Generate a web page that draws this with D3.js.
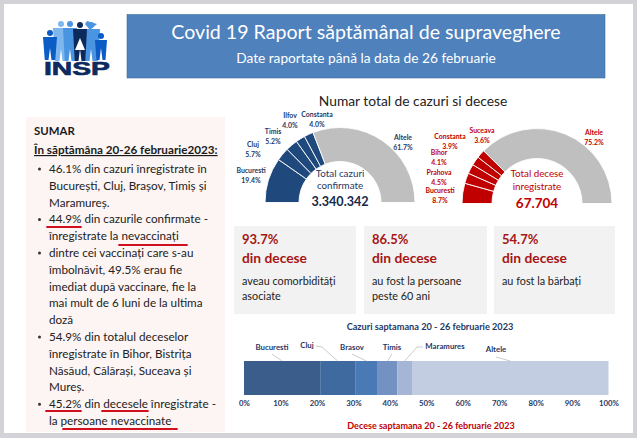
<!DOCTYPE html>
<html>
<head>
<meta charset="utf-8">
<script src="https://cdnjs.cloudflare.com/ajax/libs/d3/7.8.5/d3.min.js"></script>
<style>
    body { margin: 0; background: #d3d3d7; }
    svg { display: block; font-family: Lato, "Open Sans", sans-serif; }
</style>
</head>
<body>
<svg id="chart" width="637" height="438"></svg>
<script>
// Gauge data
const caseRegions = ["Bucuresti", "Cluj", "Timis", "Ilfov", "Constanta", "Altele"];
const caseShares = [19.4, 5.7, 5.2, 4.0, 4.0, 61.7];
const deathRegions = ["Bucuresti", "Prahova", "Bihor", "Constanta", "Suceava", "Altele"];
const deathShares = [8.7, 4.5, 4.1, 3.9, 3.6, 75.2];

// Weekly stacked bar
const weekRegions = ["Bucuresti", "Cluj", "Brasov", "Timis", "Maramures", "Altele"];
const weekShares = [20.9, 9.6, 6.2, 5.4, 4.0, 53.9];
const weekTicks = [0, 10, 20, 30, 40, 50, 60, 70, 80, 90, 100];

// Fact cards
const cardPercents = ["93.7%", "86.5%", "54.7%"];
const cardLines = [["aveau comorbidități", "asociate"], ["au fost la persoane", "peste 60 ani"], ["au fost la bărbați"]];

// Summary text
const summaryLines = [
    [true, "46.1% din cazuri înregistrate în"],
    [false, "București, Cluj, Brașov, Timiș și"],
    [false, "Maramureș."],
    [true, "44.9% din cazurile confirmate -"],
    [false, "înregistrate la nevaccinați"],
    [true, "dintre cei vaccinați care s-au"],
    [false, "îmbolnăvit, 49.5% erau fie"],
    [false, "imediat după vaccinare, fie la"],
    [false, "mai mult de 6 luni de la ultima"],
    [false, "doză"],
    [true, "54.9% din totalul deceselor"],
    [false, "înregistrate în Bihor, Bistrița"],
    [false, "Năsăud, Călărași, Suceava și"],
    [false, "Mureș."],
    [true, "45.2% din decesele înregistrate -"],
    [false, "la persoane nevaccinate"]
];

const NAVY = "#1f3864";
const RED = "#c00000";
const svg = d3.select("#chart");

function addText(parent, x, y, str, size, color, weight, anchor) {
    return parent.append("text")
        .attr("x", x).attr("y", y)
        .attr("font-size", size)
        .attr("fill", color)
        .attr("font-weight", weight || 400)
        .attr("text-anchor", anchor || "start")
        .text(str);
}

// page
svg.append("rect").attr("x", 4).attr("y", 4).attr("width", 629).attr("height", 429).attr("fill", "#fff");

// header
svg.append("rect").attr("x", 127).attr("y", 14.5).attr("width", 478).attr("height", 63.5)
    .attr("fill", "#4f81bd").attr("stroke", "#41719c").attr("stroke-width", 0.6);
addText(svg, 366, 39, "Covid 19 Raport săptămânal de supraveghere", 19.6, "#fff", 400, "middle");
addText(svg, 366, 63, "Date raportate până la data de 26 februarie", 13.7, "#fff", 400, "middle");
addText(svg, 413, 106, "Numar total de cazuri si decese", 13.8, "#222", 400, "middle");

drawLogo();

// summary panel
svg.append("rect").attr("x", 26).attr("y", 117).attr("width", 199).attr("height", 315).attr("fill", "#fdf5f4");
addText(svg, 34, 135, "SUMAR", 11.4, "#1a1a1a", 700);
addText(svg, 34, 154, "În săptămâna 20-26 februarie2023:", 11.7, "#1a1a1a", 700)
    .attr("text-decoration", "underline");

const lineY = d3.scaleLinear().domain([0, 15]).range([173, 425]);
summaryLines.forEach(([bullet, str], i) => {
    addText(svg, 49, lineY(i), str, 11.7, "#222");
    if (bullet) svg.append("circle").attr("cx", 39.5).attr("cy", lineY(i) - 4).attr("r", 1.5).attr("fill", "#333");
});

// hand drawn red underlines
[[47, 81, 227], [119, 187, 245], [46, 81, 411], [102, 148, 411], [63, 177, 429]].forEach(u => {
    svg.append("line").attr("x1", u[0]).attr("x2", u[1]).attr("y1", u[2]).attr("y2", u[2])
        .attr("stroke", "#d0101c").attr("stroke-width", 1.8).attr("stroke-linecap", "round");
});

// gauges
const caseLabelPos = [[251, 173], [253, 147], [273, 134], [290, 118], [317, 117], [403, 140]];
const deathLabelPos = [[440, 193], [439, 175], [439, 155], [450, 139], [482, 133], [594, 135]];

drawGauge(340, 202.5, 41, caseRegions, caseShares, "#1f497d", NAVY, caseLabelPos);
drawGauge(537, 203.5, 45, deathRegions, deathShares, RED, RED, deathLabelPos);

addText(svg, 340, 177, "Total cazuri", 9.8, NAVY, 400, "middle");
addText(svg, 340, 189, "confirmate", 9.8, NAVY, 400, "middle");
addText(svg, 340, 205.5, "3.340.342", 12.6, "#14284b", 700, "middle");
addText(svg, 537, 177, "Total decese", 9.8, RED, 400, "middle");
addText(svg, 537, 190, "inregistrate", 9.8, RED, 400, "middle");
addText(svg, 537, 207.5, "67.704", 13.5, RED, 700, "middle");

function drawGauge(cx, cy, inner, regions, shares, fill, labelColor, labelPos) {
    const pie = d3.pie().sort(null).startAngle(-Math.PI / 2).endAngle(Math.PI / 2);
    const arc = d3.arc().innerRadius(inner).outerRadius(75);
    const g = svg.append("g").attr("transform", `translate(${cx},${cy})`);
    g.selectAll("path")
        .data(pie(shares))
        .join("path")
        .attr("d", arc)
        .attr("fill", (d, i) => i === shares.length - 1 ? "#bfbfbf" : fill)
        .attr("stroke", "#fff")
        .attr("stroke-width", 0.9);
    regions.forEach((name, i) => {
        const [x, y] = labelPos[i];
        addText(svg, x, y, name, 6.9, labelColor, 700, "middle");
        addText(svg, x, y + 9.6, shares[i].toFixed(1) + "%", 6.9, labelColor, 700, "middle");
    });
}

// fact cards
const cardX = [234, 364, 494];
const cardW = [122, 123, 121];
cardPercents.forEach((pct, i) => {
    svg.append("rect").attr("x", cardX[i]).attr("y", 226).attr("width", cardW[i]).attr("height", 88).attr("fill", "#f2f2f2");
    addText(svg, cardX[i] + 8, 244, pct, 13, "#a61616", 700);
    addText(svg, cardX[i] + 8, 262.5, "din decese", 13.8, "#a61616", 700);
    cardLines[i].forEach((str, j) => addText(svg, cardX[i] + 8, 285 + j * 15.3, str, 10.8, "#222"));
});

// weekly stacked bar
addText(svg, 430, 330, "Cazuri saptamana 20 - 26 februarie 2023", 9.2, NAVY, 700, "middle");

const x = d3.scaleLinear().domain([0, 100]).range([244, 608.5]);
const weekColors = ["#3a5d8c", "#3f6a9f", "#4a7ab5", "#7392c2", "#a4b5d6", "#c2cde2"];
const stacked = d3.stack().keys(weekRegions)([Object.fromEntries(weekRegions.map((r, i) => [r, weekShares[i]]))]);

svg.append("g").selectAll("rect")
    .data(stacked)
    .join("rect")
    .attr("x", d => x(d[0][0]))
    .attr("y", 361)
    .attr("width", d => x(d[0][1]) - x(d[0][0]))
    .attr("height", 34)
    .attr("fill", (d, i) => weekColors[i]);

const axis = d3.axisBottom(x).tickValues(weekTicks).tickFormat(d => d + "%").tickSize(0).tickPadding(5);
const axisG = svg.append("g").attr("transform", "translate(0,395)").call(axis);
axisG.select(".domain").remove();
axisG.selectAll("text").attr("font-size", 7.8).attr("font-weight", 700).attr("fill", NAVY).attr("font-family", "Lato");

// callouts: label position, then leader start and optional elbow
const weekLabelPos = [[272, 350], [307, 348], [352, 350], [392, 350], [445, 349], [496, 352]];
const leaderStarts = [[[272, 354]], [[316, 346], [322, 347]], [[352, 354]], [[392, 354]], [[423, 347], [417, 347]], [[496, 357]]];
weekRegions.forEach((name, i) => {
    const mid = (stacked[i][0][0] + stacked[i][0][1]) / 2;
    const points = leaderStarts[i].concat([[x(mid), 361]]);
    svg.append("path").attr("d", d3.line()(points)).attr("fill", "none").attr("stroke", "#b5b5b5").attr("stroke-width", 0.7);
    addText(svg, weekLabelPos[i][0], weekLabelPos[i][1], name, 7.8, NAVY, 700, "middle");
});

addText(svg, 431, 429, "Decese saptamana 20 - 26 februarie 2023", 9, RED, 700, "middle");

// logo: crowd of simple figures over the INSP letters
function drawLogo() {
    const logo = svg.append("g");
    const figures = [
        [61, 24, 8, 61, "#7db7ee"],
        [70, 24, 7, 61, "#4a95e2"],
        [91, 25, 9, 61, "#4a95e2"],
        [50, 33, 7, 60, "#0b5cc4"],
        [80, 25, 7, 61, "#0d2a5c"],
        [101, 36, 6, 60, "#0b5cc4"]
    ];
    figures.forEach(([fx, top, w, feet, color]) => {
        logo.append("circle").attr("cx", fx).attr("cy", top).attr("r", 3).attr("fill", color);
        logo.append("path")
            .attr("d", d3.line()([[fx - w, top + 4], [fx + w, top + 4], [fx + w * 0.75, feet], [fx - w * 0.75, feet]]))
            .attr("fill", color);
        // gap between the legs
        logo.append("path")
            .attr("d", d3.line()([[fx, feet - 12], [fx - 1.5, feet], [fx + 1.5, feet]]))
            .attr("fill", "#fff");
    });
    logo.append("path").attr("d", d3.line()([[85, 24], [87, 21], [97, 24], [90, 30]])).attr("fill", "#4a95e2");
    logo.append("path").attr("d", d3.line()([[80, 38], [75, 50], [85, 50]])).attr("fill", "#fff");
    addText(logo, 44, 75, "INSP", 17.5, "#0d2a5c", 700).attr("font-family", "Liberation Sans")
        .attr("textLength", 66).attr("lengthAdjust", "spacingAndGlyphs")
        .attr("stroke", "#0d2a5c").attr("stroke-width", 0.6);
}
</script>
</body>
</html>
